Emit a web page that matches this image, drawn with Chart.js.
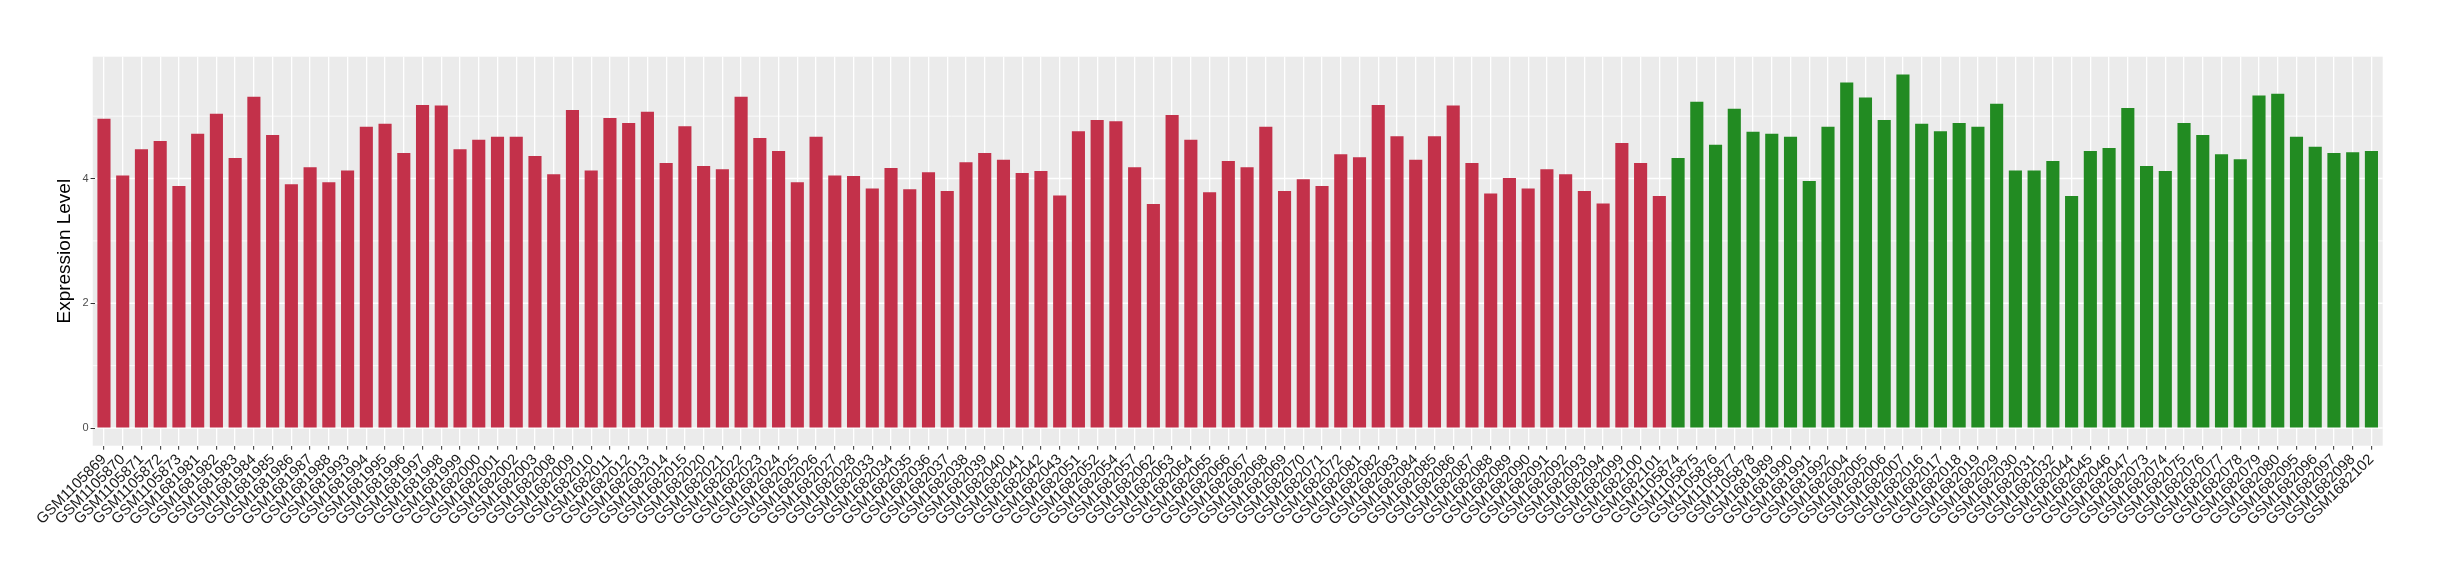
<!DOCTYPE html>
<html>
<head>
<meta charset="utf-8">
<script src="https://cdn.jsdelivr.net/npm/chart.js@4.4.0/dist/chart.umd.min.js"></script>
<style>
  html, body { margin: 0; padding: 0; background: #ffffff; }
  #wrap { width: 2440px; height: 580px; }
</style>
</head>
<body>
<div id="wrap"><canvas id="myChart" width="2440" height="580"></canvas></div>
<script>
const redSamples = [
  "GSM1105869", "GSM1105870", "GSM1105871", "GSM1105872", "GSM1105873",
  "GSM1681981", "GSM1681982", "GSM1681983", "GSM1681984", "GSM1681985", "GSM1681986", "GSM1681987", "GSM1681988",
  "GSM1681993", "GSM1681994", "GSM1681995", "GSM1681996", "GSM1681997", "GSM1681998", "GSM1681999",
  "GSM1682000", "GSM1682001", "GSM1682002", "GSM1682003",
  "GSM1682008", "GSM1682009", "GSM1682010", "GSM1682011", "GSM1682012", "GSM1682013", "GSM1682014", "GSM1682015",
  "GSM1682020", "GSM1682021", "GSM1682022", "GSM1682023", "GSM1682024", "GSM1682025", "GSM1682026", "GSM1682027", "GSM1682028",
  "GSM1682033", "GSM1682034", "GSM1682035", "GSM1682036", "GSM1682037", "GSM1682038", "GSM1682039", "GSM1682040", "GSM1682041", "GSM1682042", "GSM1682043",
  "GSM1682051", "GSM1682052", "GSM1682054", "GSM1682057",
  "GSM1682062", "GSM1682063", "GSM1682064", "GSM1682065", "GSM1682066", "GSM1682067", "GSM1682068", "GSM1682069", "GSM1682070", "GSM1682071", "GSM1682072",
  "GSM1682081", "GSM1682082", "GSM1682083", "GSM1682084", "GSM1682085", "GSM1682086", "GSM1682087", "GSM1682088", "GSM1682089", "GSM1682090", "GSM1682091", "GSM1682092", "GSM1682093", "GSM1682094",
  "GSM1682099", "GSM1682100", "GSM1682101"
];
const redValues = [
  4.96, 4.05, 4.47, 4.60, 3.88, 4.72, 5.04, 4.33, 5.31, 4.70,
  3.91, 4.18, 3.94, 4.13, 4.83, 4.88, 4.41, 5.18, 5.17, 4.47,
  4.62, 4.67, 4.67, 4.36, 4.07, 5.10, 4.13, 4.97, 4.89, 5.07,
  4.25, 4.84, 4.20, 4.15, 5.31, 4.65, 4.44, 3.94, 4.67, 4.05,
  4.04, 3.84, 4.17, 3.83, 4.10, 3.80, 4.26, 4.41, 4.30, 4.09,
  4.12, 3.73, 4.76, 4.94, 4.92, 4.18, 3.59, 5.02, 4.62, 3.78,
  4.28, 4.18, 4.83, 3.80, 3.99, 3.88, 4.39, 4.34, 5.18, 4.68,
  4.30, 4.68, 5.17, 4.25, 3.76, 4.01, 3.84, 4.15, 4.07, 3.80,
  3.60, 4.57, 4.25, 3.72
];

const greenSamples = [
  "GSM1105874", "GSM1105875", "GSM1105876", "GSM1105877", "GSM1105878",
  "GSM1681989", "GSM1681990", "GSM1681991", "GSM1681992",
  "GSM1682004", "GSM1682005", "GSM1682006", "GSM1682007",
  "GSM1682016", "GSM1682017", "GSM1682018", "GSM1682019",
  "GSM1682029", "GSM1682030", "GSM1682031", "GSM1682032",
  "GSM1682044", "GSM1682045", "GSM1682046", "GSM1682047",
  "GSM1682073", "GSM1682074", "GSM1682075", "GSM1682076", "GSM1682077", "GSM1682078", "GSM1682079", "GSM1682080",
  "GSM1682095", "GSM1682096", "GSM1682097", "GSM1682098",
  "GSM1682102"
];
const greenValues = [
  4.33, 5.23, 4.54, 5.12, 4.75, 4.72, 4.67, 3.96, 4.83, 5.54,
  5.30, 4.94, 5.67, 4.88, 4.76, 4.89, 4.83, 5.20, 4.13, 4.13,
  4.28, 3.72, 4.44, 4.49, 5.13, 4.20, 4.12, 4.89, 4.70, 4.39,
  4.31, 5.33, 5.36, 4.67, 4.51, 4.41, 4.42, 4.44
];

const yTicks = [0, 1, 2, 3, 4, 5];
const yLabels = ["0", "", "2", "", "4", ""];

const RED = "#C3314A";
const GREEN = "#228B22";
const PANEL = "#EBEBEB";

const labels = redSamples.concat(greenSamples);
const values = redValues.concat(greenValues);
const colors = redValues.map(() => RED).concat(greenValues.map(() => GREEN));

// ggplot panel: grey background, white gridlines, expanded 0.6 of a step on each side
const panelPlugin = {
  id: "panel",
  beforeDraw(chart) {
    const { ctx, chartArea, scales } = chart;
    const step = (chartArea.right - chartArea.left) / labels.length;
    const left = chartArea.left - 0.1 * step;
    const right = chartArea.right + 0.1 * step;
    ctx.save();
    ctx.fillStyle = PANEL;
    ctx.fillRect(left, chartArea.top, right - left, chartArea.bottom - chartArea.top);
    ctx.strokeStyle = "#ffffff";
    yTicks.forEach((v) => {
      const y = scales.y.getPixelForValue(v);
      ctx.lineWidth = v % 2 === 0 ? 1.5 : 0.8;
      ctx.beginPath();
      ctx.moveTo(left, y);
      ctx.lineTo(right, y);
      ctx.stroke();
    });
    ctx.restore();
  }
};

new Chart(document.getElementById("myChart"), {
  type: "bar",
  data: {
    labels: labels,
    datasets: [{
      data: values,
      backgroundColor: colors,
      borderWidth: 0,
      barPercentage: 0.7,
      categoryPercentage: 1.0
    }]
  },
  options: {
    responsive: false,
    animation: false,
    events: [],
    layout: { padding: { left: 0, right: 59.2, top: 56.7, bottom: 0 } },
    plugins: { legend: { display: false }, tooltip: { enabled: false } },
    scales: {
      x: {
        offset: true,
        border: { display: false },
        grid: {
          offset: false,
          color: "#ffffff",
          lineWidth: 1.3,
          drawTicks: true,
          tickLength: 4,
          tickColor: "#333333",
          tickWidth: 1
        },
        ticks: {
          autoSkip: false,
          maxRotation: 45,
          minRotation: 45,
          padding: 1,
          color: "#1a1a1a",
          font: { family: "'Liberation Sans', Arial, sans-serif", size: 15 }
        },
        afterFit(scale) { scale.height = 134.3; }
      },
      y: {
        min: -0.2835,
        max: 5.9535,
        border: { display: false },
        grid: {
          drawOnChartArea: false,
          drawTicks: true,
          tickLength: 4,
          tickWidth: 1,
          tickColor: (ctx) => (ctx.tick && ctx.tick.value % 2 === 0 ? "#333333" : "rgba(0,0,0,0)")
        },
        afterBuildTicks(scale) {
          scale.ticks = yTicks.map((v) => ({ value: v }));
        },
        ticks: {
          padding: 2,
          color: "#4D4D4D",
          font: { family: "'Liberation Sans', Arial, sans-serif", size: 11 },
          callback: (value) => yLabels[yTicks.indexOf(value)]
        },
        title: {
          display: true,
          text: "Expression Level",
          color: "#000000",
          padding: { top: 53, bottom: 0 },
          font: { family: "'Liberation Sans', Arial, sans-serif", size: 19 }
        },
        afterFit(scale) { scale.width = 94.6; }
      }
    }
  },
  plugins: [panelPlugin]
});
</script>
</body>
</html>
